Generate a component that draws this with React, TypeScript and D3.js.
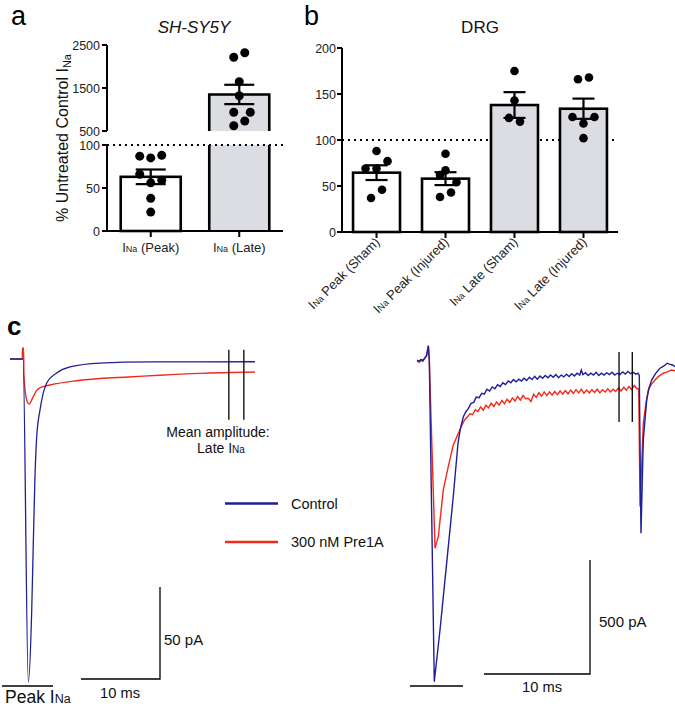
import React from "react";
import * as d3 from "d3";

const FONT = "'Liberation Sans', Arial, Helvetica, sans-serif";
const BLUE = "#1f1f98";
const RED = "#f3291c";
const GREY = "#dcdde2";

// ---------- Panel a (SH-SY5Y) ----------
const catsA = ["Peak", "Late"];
const meanA = [63, 1350];
const semA = [8.5, 225];
const ptsAPeak = [87, 85, 88, 66, 59, 56, 38, 22];
const colAPeak = [-2, 0, 2, -2, 2, 0, 0, 0];
const ptsALate = [2214, 2321, 1647, 1321, 935, 935, 733, 623];
const colALate = [-1, 1, 0, 0, -1, 2, 1, -1];
const ticksALower = [0, 50, 100];
const ticksAUpper = [500, 1500, 2500];

// ---------- Panel b (DRG) ----------
const catsB = ["Peak (Sham)", "Peak (Injured)", "Late (Sham)", "Late (Injured)"];
const meanB = [64.5, 58, 138, 134];
const semB = [8, 7, 14, 11];
const ptsB = [
  [88, 77, 69, 69, 46, 37],
  [85, 67, 62, 54, 43, 38],
  [175, 143, 124, 120],
  [166, 168, 125, 125, 118, 102],
];
const colB = [
  [0, 2, -2, 0, 1, -1],
  [0, 0, -1, 2, 1, -1],
  [0, 0, -1, 1],
  [-1, 1, -2, 2, 0, 0],
];
const ticksB = [0, 50, 100, 150, 200];

// ---------- Panel c traces: [time ms, current pA] ----------
const controlSHSY5Y: [number, number][] = [
  [0, 0], [1.65, 0], [2.32, -175.5], [2.75, -136.4], [2.95, -100], [3.16, -64.1],
  [3.38, -42.4], [3.8, -27.7], [4.65, -13], [5.91, -7.6], [7.59, -4.3], [11.4, -2.2],
  [17.7, -1.6], [31, -1.5],
];
const pre1aSHSY5Y: [number, number][] = [
  [0, 0], [1.55, 0], [1.58, 6], [1.72, 6], [1.76, -8], [2.03, -20.7], [2.41, -24.5],
  [2.91, -20.7], [3.42, -16.8], [4.43, -14.7], [5.06, -14.1], [8.0, -12.0], [11.4, -10.6],
  [15.0, -9.8], [19.0, -8.8], [24.05, -7.8], [31, -7.1],
];
const controlDRG: [number, number][] = [
  [0, 0], [0.2, -5], [0.4, 3], [0.55, -2], [0.75, 10], [0.9, 20], [1.07, 63], [1.16, 0],
  [1.63, -1411], [2.17, -1184], [2.8, -890], [3.42, -600], [3.87, -364], [4.1, -300], [4.37, -249],
  [4.6, -228], [4.85, -212], [5.1, -190], [5.35, -186], [5.6, -162], [5.85, -166], [6.1, -146],
  [6.35, -150], [6.6, -128], [6.85, -136], [7.1, -118], [7.35, -126], [7.6, -108], [7.85, -116],
  [8.1, -100], [8.35, -108], [8.6, -92], [8.85, -100], [9.1, -86], [9.35, -96], [9.6, -84],
  [9.85, -92], [10.1, -80], [10.35, -90], [10.6, -76], [10.85, -86], [11.1, -72], [11.35, -84],
  [11.6, -70], [11.85, -80], [12.1, -68], [12.35, -78], [12.6, -66], [12.85, -76], [13.1, -64],
  [13.35, -78], [13.6, -66], [13.85, -74], [14.1, -62], [14.35, -72], [14.6, -60], [14.85, -70],
  [15.1, -58], [15.35, -66], [15.5, -44], [15.65, -64], [15.9, -56], [16.15, -68], [16.4, -58],
  [16.65, -66], [16.9, -54], [17.15, -68], [17.4, -58], [17.65, -66], [17.9, -56], [18.15, -64],
  [18.4, -54], [18.65, -66], [18.9, -58], [19.15, -64], [19.4, -52], [19.65, -62], [19.9, -50],
  [20.15, -60], [20.4, -54], [20.65, -62], [20.85, -58], [20.97, -68],
  [21.13, -760], [21.35, -351], [21.67, -175], [21.9, -120], [22.14, -88], [22.5, -60],
  [22.92, -36], [23.3, -26], [23.6, -14], [23.87, -19], [24.1, -22], [24.34, -29],
];
const pre1aDRG: [number, number][] = [
  [0, -4], [0.2, -10], [0.4, -2], [0.55, -6], [0.75, 8], [0.9, 18], [1.07, 61], [1.16, 0],
  [1.7, -826], [2.01, -775], [2.48, -570], [2.95, -468], [3.42, -373], [3.87, -325], [4.25, -285],
  [4.5, -262], [4.75, -250], [5.0, -236], [5.25, -240], [5.5, -218], [5.75, -226], [6.0, -206],
  [6.25, -220], [6.5, -198], [6.75, -210], [7.0, -190], [7.25, -204], [7.5, -184], [7.75, -198],
  [8.0, -178], [8.25, -192], [8.5, -172], [8.75, -186], [9.0, -166], [9.25, -180], [9.5, -160],
  [9.75, -176], [10.0, -156], [10.25, -170], [10.5, -168], [10.75, -182], [11.0, -150],
  [11.25, -164], [11.5, -144], [11.75, -158], [12.0, -140], [12.25, -156], [12.5, -140],
  [12.75, -154], [13.0, -138], [13.25, -152], [13.5, -136], [13.75, -150], [14.0, -134],
  [14.25, -148], [14.5, -132], [14.75, -146], [15.0, -130], [15.25, -144], [15.5, -128],
  [15.75, -146], [16.0, -132], [16.25, -144], [16.5, -130], [16.75, -142], [17.0, -128],
  [17.25, -144], [17.5, -130], [17.75, -140], [18.0, -126], [18.25, -140], [18.5, -128],
  [18.75, -138], [19.0, -122], [19.25, -136], [19.5, -120], [19.75, -132], [20.0, -116],
  [20.25, -130], [20.5, -112], [20.7, -124], [20.92, -127],
  [21.04, -643], [21.35, -276], [21.6, -190], [21.82, -132], [22.1, -108], [22.45, -88],
  [22.8, -72], [23.24, -58], [23.6, -52], [24.0, -44], [24.34, -47],
];
const lateWindowSHSY5Y = [27.7, 29.6];
const lateWindowDRG = [19.06, 20.31];
const legendLabels = ["Control", "300 nM Pre1A"];

const Sub = ({ children, size }: { children: string; size: number }) => (
  <tspan fontSize={size}>{children}</tspan>
);

export default function App() {
  // Panel a scales
  const xA = d3.scaleBand<string>().domain(catsA).range([107, 283]).paddingInner(0.322).paddingOuter(0.155);
  const yALow = d3.scaleLinear().domain([0, 100]).range([231, 145]);
  const yAUp = d3.scaleLinear().domain([500, 2500]).range([131, 45]);
  const yAv = (v: number) => (v >= 500 ? yAUp(v) : yALow(v));
  const bwA = xA.bandwidth();

  // Panel b scales
  const xB = d3.scaleBand<string>().domain(catsB).range([342, 618]).paddingInner(0.319).paddingOuter(0.16);
  const yB = d3.scaleLinear().domain([0, 200]).range([232, 48]);
  const bwB = xB.bandwidth();

  // Panel c scales
  const xL = d3.scaleLinear().domain([0, 31]).range([10, 10 + 31 * 7.9]);
  const yL = d3.scaleLinear().domain([0, -50]).range([359, 359 + 92]);
  const xR = d3.scaleLinear().domain([0, 24.34]).range([417, 417 + 24.34 * 10.6]);
  const yR = d3.scaleLinear().domain([0, -500]).range([360, 360 + 114]);

  const lineL = d3.line<[number, number]>().x((d) => xL(d[0])).y((d) => yL(d[1])).curve(d3.curveMonotoneX);
  const lineR = d3.line<[number, number]>().x((d) => xR(d[0])).y((d) => yR(d[1])).curve(d3.curveLinear);

  const axisStroke = { stroke: "#000", strokeWidth: 2, fill: "none" };

  const peakCx = xA("Peak")! + bwA / 2;
  const lateX = xA("Late")!;
  const lateCx = lateX + bwA / 2;

  return (
    <svg
      width={675}
      height={708}
      style={{ position: "absolute", left: 0, top: 0, background: "#fff" }}
      fontFamily={FONT}
    >
      {/* ================= Panel a ================= */}
      <text x={11} y={25} fontSize={27} fill="#000">a</text>
      <text x={194} y={33} fontSize={17} fontStyle="italic" textAnchor="middle" fill="#111">SH-SY5Y</text>

      {/* y title */}
      <text transform="translate(68,138) rotate(-90)" fontSize={16} textAnchor="middle" fill="#111">
        % Untreated  Control  I<tspan fontSize={11} dy={3}>Na</tspan>
      </text>

      {/* bars */}
      <rect x={xA("Peak")} y={yALow(meanA[0])} width={bwA} height={yALow(0) - yALow(meanA[0])} fill="#fff" stroke="#000" strokeWidth={2.6} />
      <rect x={lateX} y={yALow(100)} width={bwA} height={yALow(0) - yALow(100)} fill={GREY} />
      <rect x={lateX} y={yAUp(meanA[1])} width={bwA} height={yAUp(500) - yAUp(meanA[1])} fill={GREY} />
      <path
        d={`M${lateX},${yALow(100)}V${yALow(0)} M${lateX + bwA},${yALow(100)}V${yALow(0)} M${lateX},${yAUp(500)}V${yAUp(meanA[1])}H${lateX + bwA}V${yAUp(500)}`}
        stroke="#000" strokeWidth={2.6} fill="none"
      />
      {/* dotted reference at 100% */}
      <line x1={107} x2={283} y1={yALow(100)} y2={yALow(100)} stroke="#000" strokeWidth={2} strokeDasharray="2,4" />

      {/* axes */}
      <line x1={107} x2={107} y1={yAUp(2500)} y2={yAUp(500)} {...axisStroke} />
      <line x1={107} x2={107} y1={yALow(100)} y2={yALow(0) + 1} {...axisStroke} />
      <line x1={106} x2={283} y1={yALow(0)} y2={yALow(0)} {...axisStroke} />
      {ticksAUpper.map((t) => (
        <g key={"au" + t}>
          <line x1={102} x2={107} y1={yAUp(t)} y2={yAUp(t)} {...axisStroke} />
          <text x={100} y={yAUp(t) + 4.5} fontSize={12.5} textAnchor="end" fill="#222">{t}</text>
        </g>
      ))}
      {ticksALower.map((t) => (
        <g key={"al" + t}>
          <line x1={102} x2={107} y1={yALow(t)} y2={yALow(t)} {...axisStroke} />
          <text x={100} y={yALow(t) + 4.5} fontSize={12.5} textAnchor="end" fill="#222">{t}</text>
        </g>
      ))}
      {catsA.map((c) => {
        const cx = xA(c)! + bwA / 2;
        return (
          <g key={"ax" + c}>
            <line x1={cx} x2={cx} y1={yALow(0)} y2={yALow(0) + 6} {...axisStroke} />
            <text x={cx} y={252} fontSize={13} textAnchor="middle" fill="#222">
              I<Sub size={9}>Na</Sub> ({c})
            </text>
          </g>
        );
      })}

      {/* error bars */}
      {[0, 1].map((i) => {
        const cx = i === 0 ? peakCx : lateCx;
        const top = yAv(meanA[i] + semA[i]);
        const bot = yAv(meanA[i] - semA[i]);
        return (
          <g key={"ea" + i} stroke="#000" strokeWidth={2.2}>
            <line x1={cx} x2={cx} y1={top} y2={bot} />
            <line x1={cx - 15} x2={cx + 15} y1={top} y2={top} />
            <line x1={cx - 15} x2={cx + 15} y1={bot} y2={bot} />
          </g>
        );
      })}
      {/* points */}
      {ptsAPeak.map((v, i) => (
        <circle key={"pa" + i} cx={peakCx + colAPeak[i] * 5.5} cy={yAv(v)} r={4.5} fill="#000" />
      ))}
      {ptsALate.map((v, i) => (
        <circle key={"la" + i} cx={lateCx + colALate[i] * 5.5} cy={yAv(v)} r={4.5} fill="#000" />
      ))}

      {/* ================= Panel b ================= */}
      <text x={304} y={25} fontSize={27} fill="#000">b</text>
      <text x={480} y={33} fontSize={17} textAnchor="middle" fill="#111">DRG</text>

      <line x1={342} x2={618} y1={yB(100)} y2={yB(100)} stroke="#000" strokeWidth={2} strokeDasharray="2,4" />
      {catsB.map((c, i) => (
        <rect key={"bb" + c} x={xB(c)} y={yB(meanB[i])} width={bwB} height={yB(0) - yB(meanB[i])}
          fill={i < 2 ? "#fff" : GREY} stroke="#000" strokeWidth={2.6} />
      ))}
      <line x1={342} x2={342} y1={yB(200)} y2={yB(0) + 1} {...axisStroke} />
      <line x1={341} x2={618} y1={yB(0)} y2={yB(0)} {...axisStroke} />
      {ticksB.map((t) => (
        <g key={"bt" + t}>
          <line x1={337} x2={342} y1={yB(t)} y2={yB(t)} {...axisStroke} />
          <text x={336} y={yB(t) + 4.5} fontSize={12.5} textAnchor="end" fill="#222">{t}</text>
        </g>
      ))}
      {catsB.map((c, i) => {
        const cx = xB(c)! + bwB / 2;
        const top = yB(meanB[i] + semB[i]);
        const bot = yB(meanB[i] - semB[i]);
        return (
          <g key={"be" + c}>
            <line x1={cx} x2={cx} y1={yB(0)} y2={yB(0) + 6} {...axisStroke} />
            <text transform={`translate(${cx + 4},${243}) rotate(-45)`} fontSize={13} textAnchor="end" fill="#222">
              I<Sub size={9}>Na</Sub> {c}
            </text>
            <g stroke="#000" strokeWidth={2.2}>
              <line x1={cx} x2={cx} y1={top} y2={bot} />
              <line x1={cx - 11} x2={cx + 11} y1={top} y2={top} />
              <line x1={cx - 11} x2={cx + 11} y1={bot} y2={bot} />
            </g>
            {ptsB[i].map((v, j) => (
              <circle key={j} cx={cx + colB[i][j] * 5.5} cy={yB(v)} r={4.3} fill="#000" />
            ))}
          </g>
        );
      })}

      {/* ================= Panel c ================= */}
      <text x={7} y={335} fontSize={26} fontWeight="bold" fill="#000">c</text>

      {/* left traces (SH-SY5Y) */}
      <path d={lineL(pre1aSHSY5Y)!} stroke={RED} strokeWidth={1.4} fill="none" />
      <path d={lineL(controlSHSY5Y)!} stroke={BLUE} strokeWidth={1.3} fill="none" />
      {lateWindowSHSY5Y.map((t) => (
        <line key={"lw" + t} x1={xL(t)} x2={xL(t)} y1={yL(5)} y2={yL(-33)} stroke="#000" strokeWidth={1.3} />
      ))}
      <text x={218} y={437} fontSize={14} textAnchor="middle" fill="#111">Mean amplitude:</text>
      <text x={221} y={453} fontSize={14} textAnchor="middle" fill="#111">
        Late I<Sub size={10}>Na</Sub>
      </text>
      {/* left scale bars */}
      <path d={`M${160},${679 - (yL(-50) - yL(0))}V679H${160 - (xL(10) - xL(0))}`} stroke="#000" strokeWidth={1.3} fill="none" />
      <text x={164} y={645} fontSize={15} fill="#111">50 pA</text>
      <text x={120} y={698} fontSize={14.7} textAnchor="middle" fill="#111">10 ms</text>
      <line x1={2} x2={53} y1={686} y2={686} stroke="#000" strokeWidth={1.3} />
      <text x={5} y={703} fontSize={17.5} fill="#111">
        Peak I<Sub size={12.5}>Na</Sub>
      </text>

      {/* legend */}
      {legendLabels.map((l, i) => (
        <g key={"lg" + l}>
          <line x1={225} x2={278} y1={503.5 + i * 38.5} y2={503.5 + i * 38.5} stroke={i === 0 ? BLUE : RED} strokeWidth={2.6} />
          <text x={291} y={508.5 + i * 38.5} fontSize={14.5} fill="#111">{l}</text>
        </g>
      ))}

      {/* right traces (DRG) */}
      <path d={lineR(pre1aDRG)!} stroke={RED} strokeWidth={1.4} fill="none" />
      <path d={lineR(controlDRG)!} stroke={BLUE} strokeWidth={1.4} fill="none" />
      {lateWindowDRG.map((t) => (
        <line key={"rw" + t} x1={xR(t)} x2={xR(t)} y1={yR(35)} y2={yR(-272)} stroke="#000" strokeWidth={1.3} />
      ))}
      <path d={`M${590},${674 - (yR(-500) - yR(0))}V674H${590 - (xR(10) - xR(0))}`} stroke="#000" strokeWidth={1.3} fill="none" />
      <text x={599} y={627} fontSize={15} fill="#111">500 pA</text>
      <text x={542} y={692} fontSize={14.7} textAnchor="middle" fill="#111">10 ms</text>
      <line x1={410} x2={463} y1={686} y2={686} stroke="#000" strokeWidth={1.3} />
    </svg>
  );
}
